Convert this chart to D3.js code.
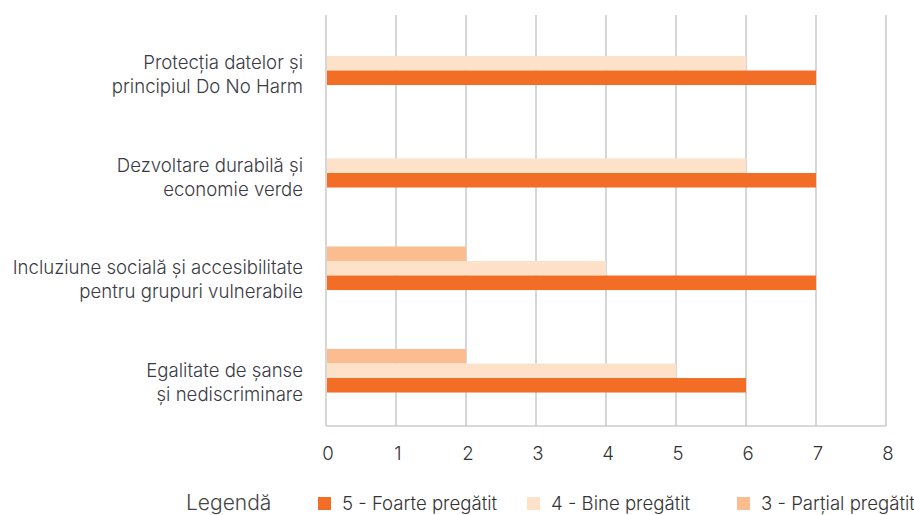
<!DOCTYPE html>
<html>
<head>
<meta charset="utf-8">
<script src="https://cdn.jsdelivr.net/npm/d3@7"></script>
<style>
  html, body { margin: 0; padding: 0; background: #fff; }
  svg { display: block; font-family: Inter, "Noto Sans", sans-serif; font-weight: 300; }
</style>
</head>
<body>
<svg id="chart" width="914" height="515"></svg>
<script>
const categories = [
  ["Protecția datelor și", "principiul Do No Harm"],
  ["Dezvoltare durabilă și", "economie verde"],
  ["Incluziune socială și accesibilitate", "pentru grupuri vulnerabile"],
  ["Egalitate de șanse", "și nediscriminare"]
];
const seriesNames = ["3 - Parțial pregătit", "4 - Bine pregătit", "5 - Foarte pregătit"];
const partial = [0, 0, 2, 2];
const bine = [6, 6, 4, 5];
const foarte = [7, 7, 7, 6];
const xTicks = [0, 1, 2, 3, 4, 5, 6, 7, 8];
const legendOrder = ["5 - Foarte pregătit", "4 - Bine pregătit", "3 - Parțial pregătit"];

const colors = {
  "3 - Parțial pregătit": "#fbbc8f",
  "4 - Bine pregătit": "#fde1c9",
  "5 - Foarte pregătit": "#f26e26"
};

const svg = d3.select("#chart");
const x = d3.scaleLinear().domain([0, 8]).range([326, 886]);
const catIdx = categories.map((d, i) => i);
const y = d3.scaleBand().domain(catIdx).range([12, 422]).paddingInner(0.575).paddingOuter(0.2875);
const ySub = d3.scaleBand().domain(seriesNames).range([0, y.bandwidth()]);

// gridlines
svg.append("g").selectAll("line").data(xTicks).join("line")
  .attr("x1", d => x(d)).attr("x2", d => x(d))
  .attr("y1", 15).attr("y2", 426)
  .attr("stroke", "#cccccc").attr("stroke-width", 1.6);
svg.append("line")
  .attr("x1", x(0)).attr("x2", x(8)).attr("y1", 426).attr("y2", 426)
  .attr("stroke", "#cccccc").attr("stroke-width", 1.6);

// bars
const seriesData = [partial, bine, foarte];
const rows = [];
seriesNames.forEach((s, si) => {
  seriesData[si].forEach((v, ci) => rows.push({ s, ci, v }));
});
svg.append("g").selectAll("rect").data(rows.filter(r => r.v > 0)).join("rect")
  .attr("x", x(0) + 1)
  .attr("y", d => y(d.ci) + ySub(d.s))
  .attr("width", d => x(d.v) - x(0) - 1)
  .attr("height", ySub.bandwidth())
  .attr("fill", d => colors[d.s]);

// category labels
const lab = svg.append("g").selectAll("text").data(catIdx).join("text")
  .attr("text-anchor", "end")
  .attr("font-size", 18.6)
  .attr("fill", "#3a3a44");
lab.each(function(ci) {
  const t = d3.select(this);
  const cy = y(ci) + y.bandwidth() / 2 + 12;
  categories[ci].forEach((line, li) => {
    t.append("tspan").attr("x", 303).attr("y", cy - 12 + li * 24 + 6).text(line);
  });
});

// x tick labels
svg.append("g").selectAll("text").data(xTicks).join("text")
  .attr("x", d => x(d) + 2)
  .attr("y", 460)
  .attr("text-anchor", "middle")
  .attr("font-size", 18.6)
  .attr("fill", "#333")
  .text(d => d);

// legend
svg.append("text").attr("x", 186).attr("y", 510)
  .attr("font-size", 21).attr("fill", "#444").text("Legendă");
const legX = [318, 527, 737];
const lg = svg.append("g").selectAll("g").data(legendOrder).join("g")
  .attr("transform", (d, i) => `translate(${legX[i]},0)`);
lg.append("rect").attr("x", 0).attr("y", 497).attr("width", 13).attr("height", 13)
  .attr("fill", d => colors[d]);
lg.append("text").attr("x", 24).attr("y", 510)
  .attr("font-size", 18.6).attr("fill", "#333").text(d => d);
</script>
</body>
</html>
